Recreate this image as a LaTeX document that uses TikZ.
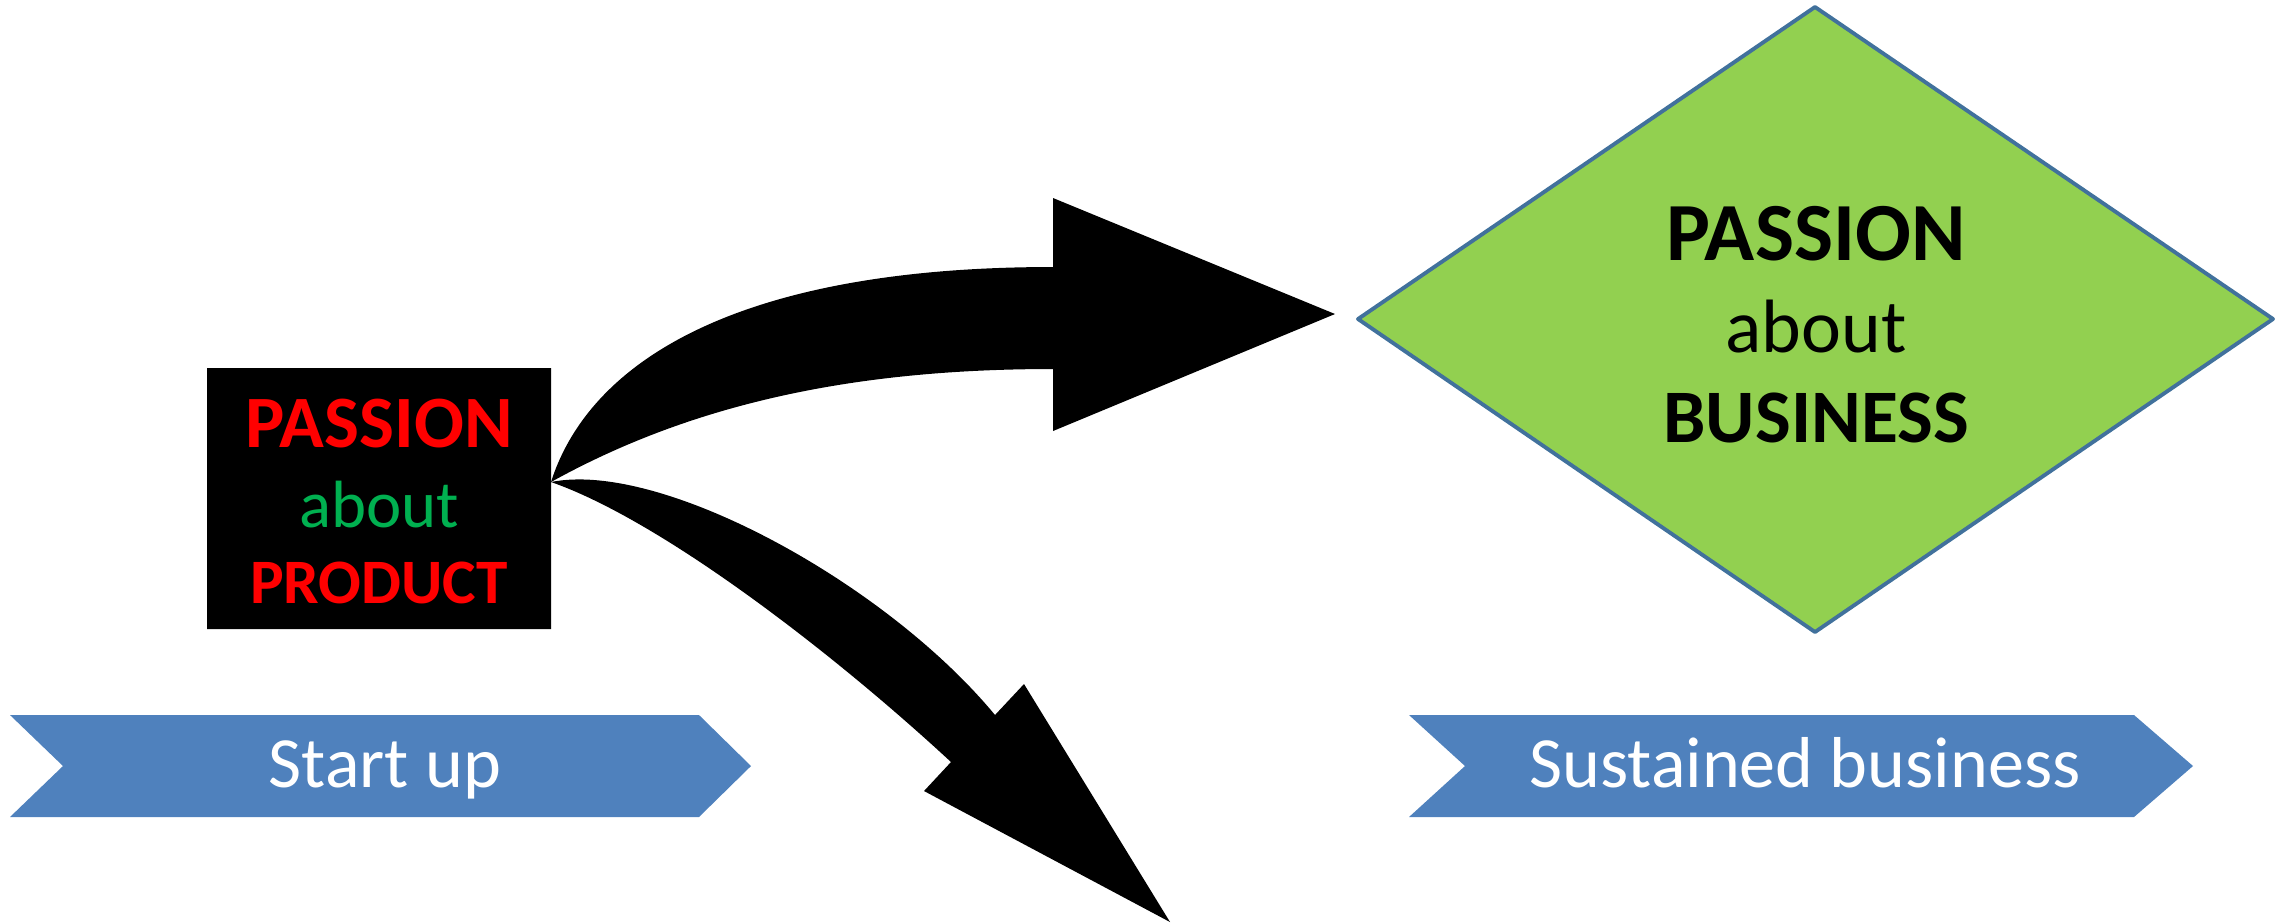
\documentclass[tikz,border=0pt]{standalone}
\usepackage{fontspec}
\setmainfont{Carlito}
\usepackage{tkz-euclide}
\definecolor{stageblue}{RGB}{79,129,189}
\definecolor{bizgreen}{RGB}{146,208,80}
\definecolor{bizedge}{RGB}{65,113,156}
\definecolor{prodgreen}{RGB}{0,176,80}

\begin{document}
\begin{tikzpicture}[x=0.01cm,y=-0.01cm,
    txt/.style={anchor=base,inner sep=0pt},
    stagetxt/.style={txt,white,font=\fontsize{20.5}{24}\selectfont}]
    %initialisation
    \useasboundingbox (0,0) rectangle (2282,923);
    %definitions
    \tkzDefPoint(207,368){P1} \tkzDefPoint(551,368){P2}
    \tkzDefPoint(551,629){P3} \tkzDefPoint(207,629){P4}
    \tkzDefPoint(1358,319){B1} \tkzDefPoint(1815,7){B2}
    \tkzDefPoint(2273,319){B3} \tkzDefPoint(1815,632){B4}
    \tkzDefPoint(10,715){S1} \tkzDefPoint(699,715){S2} \tkzDefPoint(751,766){S3}
    \tkzDefPoint(699,817){S4} \tkzDefPoint(10,817){S5} \tkzDefPoint(63,766){S6}
    \tkzDefPoint(1409,715){T1} \tkzDefPoint(2134,715){T2} \tkzDefPoint(2193,766){T3}
    \tkzDefPoint(2134,817){T4} \tkzDefPoint(1409,817){T5} \tkzDefPoint(1465,766){T6}
    \tkzDefPoint(551,482){O}
    %drawing
    \tkzFillPolygon[fill=black](P1,P2,P3,P4)
    \tkzDrawPolygon[fill=bizgreen,draw=bizedge,line width=1.1pt](B1,B2,B3,B4)
    \tkzFillPolygon[fill=stageblue](S1,S2,S3,S4,S5,S6)
    \tkzFillPolygon[fill=stageblue](T1,T2,T3,T4,T5,T6)
    \fill (O) .. controls (590,360) and (740,267) .. (1053,267) -- (1053,198)
        -- (1335,314) -- (1053,431) -- (1053,369)
        .. controls (850,369) and (690,405) .. (O);
    \fill (O) .. controls (660,460) and (885,582) .. (995,715) -- (1024,684)
        -- (1170,922) -- (924,791) -- (951,762)
        .. controls (830,650) and (660,520) .. (O);
    %label
    \node[txt,red,font=\fontsize{21}{25}\selectfont\bfseries] (prodtop) at (379,447) {PASSION};
    \node[txt,prodgreen,font=\fontsize{19}{23}\selectfont] (prodmid) at (379,527) {about};
    \node[txt,red,font=\fontsize{18}{22}\selectfont\bfseries] (prodbot) at (379,603) {PRODUCT};
    \node[txt,font=\fontsize{23.5}{28}\selectfont\bfseries] (biztop) at (1816,260) {PASSION};
    \node[txt,font=\fontsize{21.5}{26}\selectfont] (bizmid) at (1816,352) {about};
    \node[txt,font=\fontsize{21.5}{26}\selectfont\bfseries] (bizbot) at (1816,442) {BUSINESS};
    \node[stagetxt] (startup) at (385,787) {Start up};
    \node[stagetxt] (sustain) at (1805,787) {Sustained business};
\end{tikzpicture}
\end{document}
